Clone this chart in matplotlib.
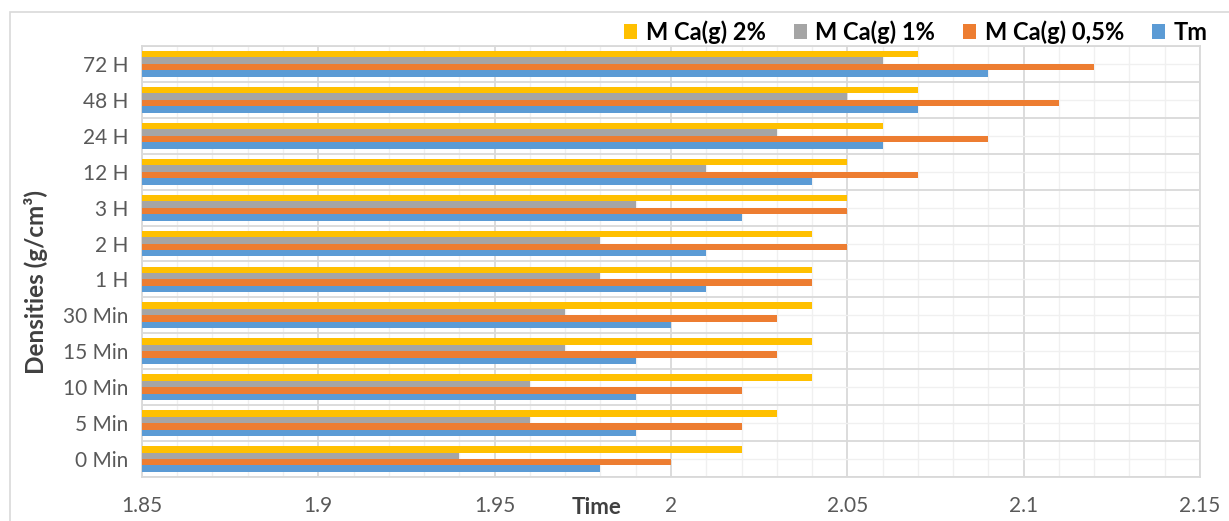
import matplotlib.pyplot as plt
import numpy as np
from matplotlib.patches import Rectangle
from matplotlib.ticker import MultipleLocator

plt.rcParams['font.family'] = ['Lato', 'DejaVu Sans']

# categories, bottom to top
labels = ['0 Min', '5 Min', '10 Min', '15 Min', '30 Min', '1 H', '2 H', '3 H',
          '12 H', '24 H', '48 H', '72 H']
tm = [1.98, 1.99, 1.99, 1.99, 2.00, 2.01, 2.01, 2.02, 2.04, 2.06, 2.07, 2.09]
ca_05 = [2.00, 2.02, 2.02, 2.03, 2.03, 2.04, 2.05, 2.05, 2.07, 2.09, 2.11, 2.12]
ca_1 = [1.94, 1.96, 1.96, 1.97, 1.97, 1.98, 1.98, 1.99, 2.01, 2.03, 2.05, 2.06]
ca_2 = [2.02, 2.03, 2.04, 2.04, 2.04, 2.04, 2.04, 2.05, 2.05, 2.06, 2.07, 2.07]

base = 1.85
y = np.arange(len(labels))
h = 0.18

fig = plt.figure(figsize=(12.29, 5.21), dpi=100)
ax = fig.add_axes([0.1155, 0.0845, 0.8609, 0.8272])

series = [
    (tm, 'Tm', '#5B9BD5', -1.5),
    (ca_05, 'M Ca(g) 0,5%', '#ED7D31', -0.5),
    (ca_1, 'M Ca(g) 1%', '#A5A5A5', 0.5),
    (ca_2, 'M Ca(g) 2%', '#FFC000', 1.5),
]
bars = {}
for vals, name, col, off in series:
    bars[name] = ax.barh(y + off * h, np.array(vals) - base, height=h, left=base,
                         color=col, zorder=3, label=name)

ax.set_xlim(1.85, 2.15)
ax.set_ylim(-0.5, len(labels) - 0.5)
ax.xaxis.set_major_locator(MultipleLocator(0.05))
ax.xaxis.set_minor_locator(MultipleLocator(0.01))
ax.set_xticks([1.85, 1.9, 1.95, 2.0, 2.05, 2.1, 2.15])
ax.set_xticklabels(['1.85', '1.9', '1.95', '2', '2.05', '2.1', '2.15'])
ax.set_yticks(y)
ax.set_yticklabels(labels)
ax.set_yticks(np.arange(-0.5, len(labels), 1.0), minor=True)

ax.grid(which='major', axis='x', color='#d9d9d9', lw=1.3, zorder=0)
ax.grid(which='minor', axis='x', color='#f0f0f0', lw=1.0, zorder=0)
ax.grid(which='minor', axis='y', color='#d9d9d9', lw=1.3, zorder=0)
ax.grid(which='major', axis='y', color='#f0f0f0', lw=1.0, zorder=0)
ax.set_axisbelow(True)

ax.tick_params(which='both', length=0)
ax.tick_params(axis='y', labelsize=15, labelcolor='#595959', pad=10)
ax.tick_params(axis='x', labelsize=15, labelcolor='#595959', pad=14)
for s in ax.spines.values():
    s.set_color('#d9d9d9')
    s.set_linewidth(1.3)

fig.text(597 / 1229, 1 - 507 / 521, 'Time', ha='center', va='center',
         fontsize=16, fontweight='bold', color='#404040')
fig.text(36 / 1229, 1 - 282 / 521, 'Densities (g/cm³)', ha='center', va='center',
         rotation=90, fontsize=17.5, fontweight='bold', color='#404040')

order = ['M Ca(g) 2%', 'M Ca(g) 1%', 'M Ca(g) 0,5%', 'Tm']
fig.legend([bars[n] for n in order], order, loc='center right',
           bbox_to_anchor=(1224 / 1229, 1 - 32 / 521), ncol=4, frameon=False,
           handlelength=0.55, handleheight=0.55, handletextpad=0.35,
           columnspacing=1.2, borderpad=0.2, prop={'weight': 'bold', 'size': 17})

# outer chart frame
fig.patches.append(Rectangle((10 / 1229, -0.02), 1.2, 1 - 12 / 521 + 0.02,
                             transform=fig.transFigure, fill=False,
                             edgecolor='#d9d9d9', lw=1.2))

fig.savefig('out.png', dpi=100)
